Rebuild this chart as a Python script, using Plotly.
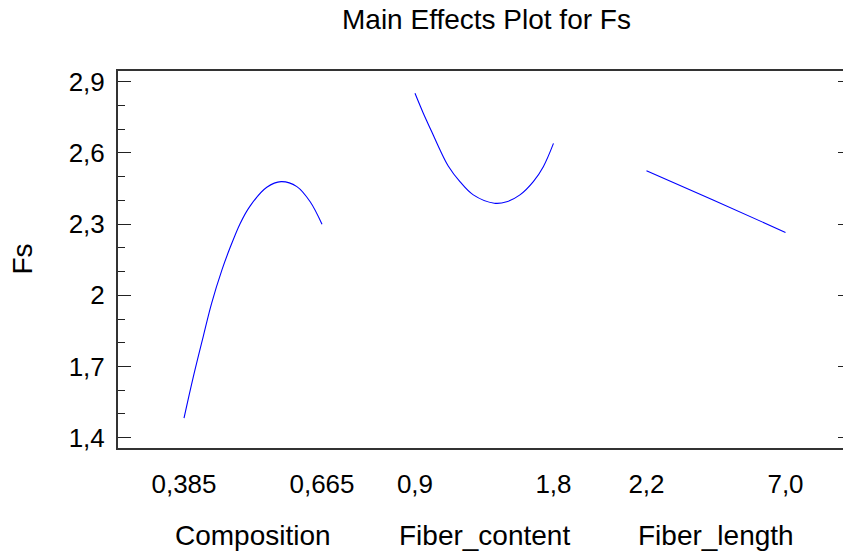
import plotly.graph_objects as go

# ---- data ----
comp_x = [0.385, 0.404, 0.424, 0.441, 0.462, 0.478, 0.499, 0.519, 0.553, 0.582, 0.614, 0.641, 0.665]
comp_y = [1.482, 1.657, 1.826, 1.966, 2.107, 2.198, 2.303, 2.376, 2.455, 2.479, 2.458, 2.394, 2.299]

fc_x = [0.9, 0.954, 1.009, 1.063, 1.116, 1.192, 1.279, 1.415, 1.496, 1.582, 1.669, 1.734, 1.8]
fc_y = [2.851, 2.767, 2.689, 2.612, 2.545, 2.479, 2.423, 2.388, 2.394, 2.423, 2.479, 2.542, 2.640]

fl_x = [2.2, 4.5, 7.0]
fl_y = [2.525, 2.402, 2.265]

factor_names = ["Composition", "Fiber_content", "Fiber_length"]
comp_ticks = [0.385, 0.665]
comp_ticktext = ["0,385", "0,665"]
fc_ticks = [0.9, 1.8]
fc_ticktext = ["0,9", "1,8"]
fl_ticks = [2.2, 7.0]
fl_ticktext = ["2,2", "7,0"]

y_ticks = [1.4, 1.7, 2.0, 2.3, 2.6, 2.9]
y_ticktext = ["1,4", "1,7", "2", "2,3", "2,6", "2,9"]

title_text = "Main Effects Plot for Fs"
y_title = "Fs"

# ---- styling ----
FONT = "Arial, 'Liberation Sans', sans-serif"
LINE_COL = "#333333"
CURVE_COL = "#0000ff"
Y_RANGE = [1.3566, 2.9451]
TICK_SIZE = 26
TITLE_SIZE = 28

fig = go.Figure()
for xs, ys, xa in [(comp_x, comp_y, "x"), (fc_x, fc_y, "x2"), (fl_x, fl_y, "x3")]:
    fig.add_trace(go.Scatter(x=xs, y=ys, xaxis=xa, yaxis="y", mode="lines",
                             line=dict(color=CURVE_COL, width=1.1, shape="spline", smoothing=1.0),
                             showlegend=False, hoverinfo="skip"))
# invisible trace to carry the right-hand tick axis
fig.add_trace(go.Scatter(x=fl_x, y=fl_y, xaxis="x3", yaxis="y2", mode="lines",
                         line=dict(width=0), opacity=0, showlegend=False, hoverinfo="skip"))

def xaxis_cfg(domain, rng, tv, tt):
    return dict(domain=domain, range=rng, anchor="y", tickmode="array",
                tickvals=tv, ticktext=tt, ticks="", showgrid=False, zeroline=False,
                showline=True, linecolor=LINE_COL, linewidth=2, mirror=True,
                tickfont=dict(family=FONT, size=TICK_SIZE, color="black"),
                ticklabelstandoff=12, fixedrange=True)

fig.update_layout(
    width=843, height=552,
    margin=dict(l=118, r=0, t=71, b=104),
    paper_bgcolor="white", plot_bgcolor="white",
    xaxis=xaxis_cfg([0, 0.3455], [0.2511, 0.7593], comp_ticks, comp_ticktext),
    xaxis2=xaxis_cfg([0.3455, 0.6648], [0.5978, 2.1022], fc_ticks, fc_ticktext),
    xaxis3=xaxis_cfg([0.6648, 1.0], [0.5942, 8.9856], fl_ticks, fl_ticktext),
    yaxis=dict(range=Y_RANGE, anchor="x", tickmode="array", tickvals=y_ticks,
               ticktext=y_ticktext, ticks="inside", ticklen=13, tickwidth=1.2,
               tickcolor="#222222",
               minor=dict(tickmode="array", tickvals=[round(1.4 + 0.1 * i, 1) for i in range(16)],
                          ticks="inside", ticklen=7, tickwidth=1.2, tickcolor="#222222"),
               showgrid=False, zeroline=False, showline=True, linecolor=LINE_COL,
               linewidth=2, tickfont=dict(family=FONT, size=TICK_SIZE, color="black"),
               ticklabelstandoff=6, fixedrange=True),
    yaxis2=dict(range=Y_RANGE, overlaying="y", side="right", anchor="x3",
                tickmode="array", tickvals=y_ticks, ticks="inside", ticklen=5,
                tickwidth=1.2, tickcolor="#222222", showticklabels=False,
                showgrid=False, zeroline=False, showline=False, fixedrange=True),
    showlegend=False,
)

annotations = [
    dict(text=title_text, xref="paper", yref="paper", x=0.5076, y=1.1353,
         xanchor="center", yanchor="middle", showarrow=False,
         font=dict(family=FONT, size=TITLE_SIZE, color="black")),
    dict(text=y_title, xref="paper", yref="paper", x=-0.1324, y=0.5,
         xanchor="center", yanchor="middle", textangle=-90, showarrow=False,
         font=dict(family=FONT, size=TITLE_SIZE, color="black")),
]
for name, xref, ticks in [(factor_names[0], "x", comp_ticks), (factor_names[1], "x2", fc_ticks),
                          (factor_names[2], "x3", fl_ticks)]:
    annotations.append(dict(text=name, xref=xref, yref="paper", x=sum(ticks) / 2, y=-0.2334,
                            xanchor="center", yanchor="middle", showarrow=False,
                            font=dict(family=FONT, size=TITLE_SIZE, color="black")))
fig.update_layout(annotations=annotations)

fig.write_html("out.html", config={"displayModeBar": False},
               post_script="document.body.style.margin='0';document.body.style.overflow='hidden';")
